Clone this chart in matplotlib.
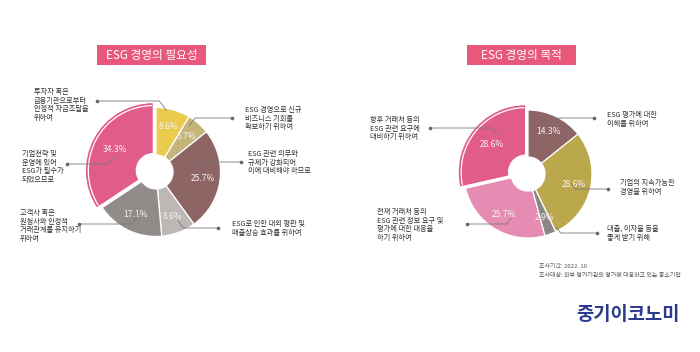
import matplotlib
matplotlib.use('Agg')
import matplotlib.pyplot as plt
from matplotlib.patches import Arc, Rectangle
import numpy as np

plt.rcParams['font.family'] = ['Noto Sans CJK KR', 'DejaVu Sans']

W, H = 700, 352

# ---------------- data ----------------
need_title = 'ESG 경영의 필요성'
need_labels = ['투자자 혹은\n금융기관으로부터\n안정적 자금조달을\n위하여',
               'ESG 경영으로 신규\n비즈니스 기회를\n확보하기 위하여',
               'ESG 관련 의무와\n규제가 강화되어\n이에 대비해야 하므로',
               'ESG로 인한 대외 평판 및\n매출상승 효과를 위하여',
               '고객사 혹은\n원청사와 안정적\n거래관계를 유지하기\n위하여',
               '기업전략 및\n운영에 있어\nESG가 필수가\n되었으므로']
need_values = [8.6, 5.7, 25.7, 8.6, 17.1, 34.3]
need_colors = ['#EBCB4D', '#C4B67B', '#8D6565', '#BDB7B5', '#918B89', '#E15B8B']

purpose_title = 'ESG 경영의 목적'
purpose_labels = ['ESG 평가에 대한\n이해를 위하여',
                  '기업의 지속가능한\n경영을 위하여',
                  '대출, 이자율 등을\n좋게 받기 위해',
                  '현재 거래처 등의\nESG 관련 정보 요구 및\n평가에 대한 대응을\n하기 위하여',
                  '향후 거래처 등의\nESG 관련 요구에\n대비하기 위하여']
purpose_values = [14.3, 28.6, 2.9, 25.7, 28.6]
purpose_colors = ['#8D6565', '#BBA84C', '#8B8787', '#E68CB2', '#E15B8B']

note_lines = ['조사기간: 2022. 10', '조사대상: 외부 평가기관의 평가에 대응하고 있는 중소기업']
brand = '중기이코노미'

# ---------------- layout (screen px, y down) ----------------
need_layout = dict(cx=156, cy=172, R=64.5, hole=17, big=5, box=(97, 45, 109, 20))
# per label: text x, first-line y, dot x, dot y, leader angle offset, leader radius fraction
need_ann = [(34, 92, 97, 101, 6, 0.97),
            (245, 110, 232, 118, 5.5, 0.88),
            (248, 154, 241, 162, 13, 0.64),
            (232, 224, 218, 228, 3.7, 0.83),
            (20, 213, 79, 224, 2.8, 0.74),
            (22, 154, 67, 164, 10, 0.65)]
purpose_layout = dict(cx=528, cy=174, R=64, hole=17, big=4, box=(467, 45, 109, 20))
purpose_ann = [(607, 115, 594, 118, 0, 0.83),
               (620, 183, 608, 189, 0, 0.70),
               (607, 229, 597, 233, 7.5, 0.94),
               (377, 212, 467, 224, 10, 0.74),
               (370, 120, 430, 128, -14, 0.725)]

LINE_STEP = 8.7
LABEL_SIZE = 5.2
TEXT_COLOR = '#2f2f2f'
LEAD_COLOR = '#7a7a7a'
BOX_COLOR = '#E8587B'

fig = plt.figure(figsize=(7, 3.52), dpi=100)
ax = fig.add_axes([0, 0, 1, 1])


def draw_chart(values, colors, labels, title, lay, ann):
    cx, cy, R, hole = lay['cx'], H - lay['cy'], lay['R'], lay['hole']
    wedges, _, autotexts = ax.pie(
        values, colors=colors, startangle=90, counterclock=False,
        center=(cx, cy), radius=R, frame=True,
        wedgeprops=dict(width=R - hole, edgecolor='white', linewidth=0.9),
        autopct='%.1f%%', pctdistance=0.73,
        textprops=dict(color='#FBF3F5', fontsize=6.1))
    for t, v in zip(autotexts, values):
        t.set_text(f'{v}%')
    # enlarged, slightly pulled-out wedge with inner white arc
    w = wedges[lay['big']]
    mid = np.deg2rad((w.theta1 + w.theta2) / 2)
    shift = 3.0
    ncx, ncy = cx + shift * np.cos(mid), cy + shift * np.sin(mid)
    w.set_center((ncx, ncy))
    Rb = R * 1.055
    w.set_radius(Rb)
    w.set_width(Rb - hole)
    ax.add_patch(Arc((ncx, ncy), 2 * (Rb - 3), 2 * (Rb - 3),
                     theta1=w.theta1 + 1.2, theta2=w.theta2 - 1.0,
                     color='white', lw=0.9, zorder=3))
    # title box
    bx, by, bw, bh = lay['box']
    ax.add_patch(Rectangle((bx, H - by - bh), bw, bh, facecolor=BOX_COLOR,
                           edgecolor='none', zorder=2))
    ax.text(bx + bw / 2, H - by - bh / 2, title, ha='center', va='center',
            fontsize=8.4, color='white', zorder=3)
    # labels and leaders
    for wdg, lab, (tx, ty, dx, dy, dth, rf) in zip(wedges, labels, ann):
        th = np.deg2rad((wdg.theta1 + wdg.theta2) / 2 + dth)
        c = wdg.center
        ex, ey = c[0] + rf * R * np.cos(th), c[1] + rf * R * np.sin(th)
        dyd = H - dy
        sign = 1 if dx > ex else -1
        elx = ex + sign * abs(dyd - ey) * 0.75
        ax.plot([dx, elx, ex], [dyd, dyd, ey], color=LEAD_COLOR, lw=0.6,
                zorder=4, solid_capstyle='round')
        ax.plot([dx], [dyd], 'o', color='#666666', ms=1.6, zorder=5)
        for i, line in enumerate(lab.split('\n')):
            ax.text(tx, H - (ty + i * LINE_STEP), line, ha='left', va='center',
                    fontsize=LABEL_SIZE, color=TEXT_COLOR)


draw_chart(need_values, need_colors, need_labels, need_title, need_layout, need_ann)
draw_chart(purpose_values, purpose_colors, purpose_labels, purpose_title, purpose_layout, purpose_ann)

for i, line in enumerate(note_lines):
    ax.text(539, H - (266 + i * 8.5), line, ha='left', va='center',
            fontsize=4.3, color='#555555')

ax.text(628, H - 314, brand, ha='center', va='center', fontsize=13.5,
        fontweight='bold', color='#2B3A8F')

ax.set_xlim(0, W)
ax.set_ylim(0, H)
ax.set_aspect('equal')
ax.axis('off')
fig.savefig('out.png', dpi=100)
